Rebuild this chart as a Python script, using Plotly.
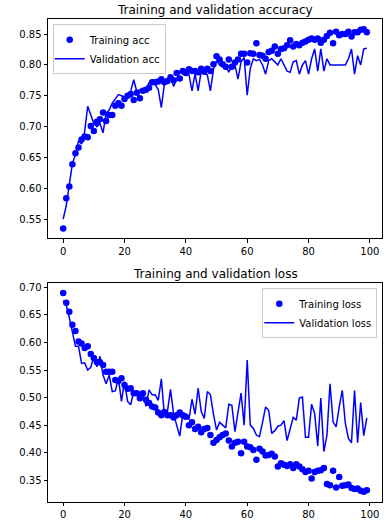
import plotly.graph_objects as go

epochs = list(range(100))

train_acc = [
    0.535, 0.584, 0.603, 0.639, 0.657, 0.666, 0.679, 0.684, 0.683, 0.701,
    0.693, 0.708, 0.712, 0.723, 0.709, 0.719, 0.719, 0.734, 0.738, 0.734,
    0.745, 0.750, 0.753, 0.743, 0.755, 0.746, 0.758, 0.760, 0.763, 0.772,
    0.772, 0.773, 0.777, 0.772, 0.774, 0.780, 0.775, 0.787, 0.778, 0.790,
    0.787, 0.793, 0.790, 0.790, 0.788, 0.794, 0.789, 0.794, 0.790, 0.801,
    0.814, 0.809, 0.801, 0.797, 0.809, 0.797, 0.804, 0.809, 0.818, 0.818,
    0.804, 0.819, 0.818, 0.835, 0.816, 0.815, 0.810, 0.821, 0.823, 0.830,
    0.818, 0.826, 0.827, 0.832, 0.840, 0.830, 0.834, 0.832, 0.836, 0.838,
    0.841, 0.843, 0.841, 0.843, 0.836, 0.841, 0.847, 0.852, 0.835, 0.854,
    0.848, 0.850, 0.850, 0.854, 0.846, 0.853, 0.853, 0.857, 0.858, 0.853,
]

val_acc = [
    0.550, 0.572, 0.606, 0.640, 0.655, 0.677, 0.672, 0.692, 0.733, 0.718,
    0.705, 0.700, 0.705, 0.690, 0.722, 0.727, 0.738, 0.745, 0.752, 0.750,
    0.748, 0.752, 0.757, 0.776, 0.757, 0.760, 0.755, 0.760, 0.771, 0.774,
    0.768, 0.760, 0.731, 0.769, 0.775, 0.782, 0.765, 0.778, 0.789, 0.785,
    0.787, 0.785, 0.758, 0.786, 0.758, 0.790, 0.786, 0.784, 0.758, 0.793,
    0.807, 0.800, 0.800, 0.797, 0.789, 0.797, 0.800, 0.777, 0.805, 0.812,
    0.751, 0.794, 0.810, 0.807, 0.809, 0.800, 0.785, 0.807, 0.810, 0.805,
    0.800, 0.810, 0.800, 0.790, 0.788, 0.805, 0.807, 0.785, 0.800, 0.807,
    0.785, 0.810, 0.826, 0.790, 0.826, 0.790, 0.810, 0.800, 0.800, 0.800,
    0.800, 0.800, 0.800, 0.810, 0.826, 0.785, 0.815, 0.800, 0.826, 0.827,
]

train_loss = [
    0.690, 0.672, 0.656, 0.632, 0.621, 0.602, 0.598, 0.590, 0.593, 0.579,
    0.572, 0.564, 0.564, 0.559, 0.547, 0.547, 0.547, 0.532, 0.530, 0.535,
    0.523, 0.516, 0.517, 0.508, 0.508, 0.499, 0.508, 0.496, 0.490, 0.484,
    0.482, 0.473, 0.468, 0.474, 0.468, 0.468, 0.464, 0.468, 0.473, 0.468,
    0.465, 0.450, 0.455, 0.443, 0.447, 0.437, 0.443, 0.445, 0.432, 0.418,
    0.423, 0.428, 0.432, 0.435, 0.422, 0.411, 0.418, 0.420, 0.399, 0.420,
    0.411, 0.410, 0.405, 0.387, 0.407, 0.402, 0.395, 0.396, 0.398, 0.393,
    0.375, 0.381, 0.378, 0.376, 0.379, 0.372, 0.379, 0.375, 0.370, 0.365,
    0.367, 0.353, 0.365, 0.367, 0.368, 0.372, 0.343, 0.341, 0.367, 0.337,
    0.356, 0.340, 0.341, 0.342, 0.336, 0.334, 0.335, 0.331, 0.329, 0.332,
]

val_loss = [
    0.676, 0.668, 0.645, 0.620, 0.593, 0.593, 0.562, 0.563, 0.550, 0.555,
    0.575, 0.556, 0.575, 0.541, 0.525, 0.541, 0.511, 0.512, 0.535, 0.493,
    0.529, 0.493, 0.487, 0.511, 0.505, 0.499, 0.508, 0.484, 0.514, 0.505,
    0.505, 0.495, 0.534, 0.468, 0.475, 0.515, 0.470, 0.450, 0.430, 0.470,
    0.470, 0.460, 0.497, 0.470, 0.517, 0.475, 0.462, 0.511, 0.505, 0.470,
    0.441, 0.455, 0.450, 0.445, 0.488, 0.486, 0.438, 0.470, 0.508, 0.450,
    0.568, 0.450, 0.444, 0.432, 0.429, 0.455, 0.483, 0.477, 0.435, 0.440,
    0.448, 0.450, 0.458, 0.422, 0.443, 0.464, 0.459, 0.499, 0.501, 0.428,
    0.428, 0.488, 0.471, 0.412, 0.499, 0.402, 0.432, 0.525, 0.456, 0.447,
    0.483, 0.513, 0.453, 0.426, 0.418, 0.513, 0.418, 0.491, 0.431, 0.463,
]

x_ticks = [0, 20, 40, 60, 80, 100]
acc_ticks = [0.55, 0.60, 0.65, 0.70, 0.75, 0.80, 0.85]
loss_ticks = [0.35, 0.40, 0.45, 0.50, 0.55, 0.60, 0.65, 0.70]

BLUE = "#0000ff"
FONT = "DejaVu Sans"
W, H = 391, 527

fig = go.Figure()
fig.add_trace(go.Scatter(x=epochs, y=train_acc, mode="markers", name="Training acc",
                         marker=dict(color=BLUE, size=6.5), xaxis="x", yaxis="y", legend="legend"))
fig.add_trace(go.Scatter(x=epochs, y=val_acc, mode="lines", name="Validation acc",
                         line=dict(color=BLUE, width=1.5), xaxis="x", yaxis="y", legend="legend"))
fig.add_trace(go.Scatter(x=epochs, y=train_loss, mode="markers", name="Training loss",
                         marker=dict(color=BLUE, size=6.5), xaxis="x2", yaxis="y2", legend="legend2"))
fig.add_trace(go.Scatter(x=epochs, y=val_loss, mode="lines", name="Validation loss",
                         line=dict(color=BLUE, width=1.5), xaxis="x2", yaxis="y2", legend="legend2"))

xdom = [48 / W, 382 / W]
ydom1 = [1 - 238.3 / H, 1 - 19.3 / H]
ydom2 = [1 - 501.7 / H, 1 - 283.0 / H]

axis_common = dict(showline=True, linecolor="black", linewidth=0.8, mirror=True,
                   ticks="outside", ticklen=3.5, tickwidth=0.8, tickcolor="black",
                   showgrid=False, zeroline=False,
                   tickfont=dict(family=FONT, size=10, color="black"))

legend_common = dict(bgcolor="rgba(255,255,255,0.8)", bordercolor="#cccccc", borderwidth=1,
                     font=dict(family=FONT, size=10, color="black"), tracegroupgap=0,
                     indentation=-4)

fig.update_layout(
    width=W, height=H,
    margin=dict(l=0, r=0, t=0, b=0),
    paper_bgcolor="white", plot_bgcolor="white",
    font=dict(family=FONT, size=10, color="black"),
    xaxis=dict(domain=xdom, range=[-4.95, 103.95], tickvals=x_ticks, anchor="y", **axis_common),
    yaxis=dict(domain=ydom1, range=[0.519, 0.874], tickvals=acc_ticks, tickformat=".2f",
               anchor="x", **axis_common),
    xaxis2=dict(domain=xdom, range=[-4.95, 103.95], tickvals=x_ticks, anchor="y2", **axis_common),
    yaxis2=dict(domain=ydom2, range=[0.311, 0.708], tickvals=loss_ticks, tickformat=".2f",
                anchor="x2", **axis_common),
    legend=dict(x=52.7 / W, y=1 - 24.3 / H, xanchor="left", yanchor="top", **legend_common),
    legend2=dict(x=377.3 / W, y=1 - 288.3 / H, xanchor="right", yanchor="top", **legend_common),
    annotations=[
        dict(text="Training and validation accuracy", x=(xdom[0] + xdom[1]) / 2, y=ydom1[1],
             xref="paper", yref="paper", xanchor="center", yanchor="bottom", yshift=0,
             showarrow=False, font=dict(family=FONT, size=12, color="black")),
        dict(text="Training and validation loss", x=(xdom[0] + xdom[1]) / 2, y=ydom2[1],
             xref="paper", yref="paper", xanchor="center", yanchor="bottom", yshift=0,
             showarrow=False, font=dict(family=FONT, size=12, color="black")),
    ],
)

fig.write_html("out.html", config={"displayModeBar": False},
               post_script="document.body.style.margin='0';")
